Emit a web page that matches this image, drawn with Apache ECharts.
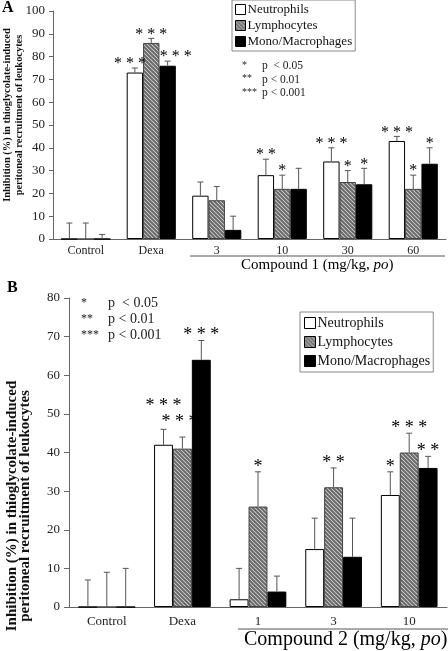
<!DOCTYPE html>
<html><head><meta charset="utf-8">
<script src="https://cdn.jsdelivr.net/npm/echarts@6/dist/echarts.min.js"></script>
<style>html,body{margin:0;padding:0;background:#fff}#c{width:448px;height:651px}</style>
</head><body><div id="c"></div>
<script>
// ---------------- DATA ----------------
const seriesNames = ['Neutrophils', 'Lymphocytes', 'Mono/Macrophages'];

// Panel A (Compound 1)
const catsA = ['Control', 'Dexa', '3', '10', '30', '60'];
const neutA = [0, 73, 19, 28, 34, 43];
const lymphA = [0, 86, 17, 22, 25, 22];
const monoA = [0, 76, 4, 22, 24, 33];
const neutErrA = [7, 2, 6, 7, 6, 2];
const lymphErrA = [7, 2, 6, 6, 5, 6];
const monoErrA = [2, 2, 6, 9, 7, 7];
const neutStarsA = ['', '***', '', '**', '***', '***'];
const lymphStarsA = ['', '***', '', '*', '*', '*'];
const monoStarsA = ['', '***', '', '', '*', '*'];
const yTicksA = [0, 10, 20, 30, 40, 50, 60, 70, 80, 90, 100];

// Panel B (Compound 2)
const catsB = ['Control', 'Dexa', '1', '3', '10'];
const neutB = [0, 42, 2, 15, 29];
const lymphB = [0, 41, 26, 31, 40];
const monoB = [0, 64, 4, 13, 36];
const neutErrB = [7, 4, 8, 8, 6];
const lymphErrB = [9, 3, 9, 5, 5];
const monoErrB = [10, 5, 4, 10, 3];
const neutStarsB = ['', '***', '', '', '*'];
const lymphStarsB = ['', '***', '*', '**', '***'];
const monoStarsB = ['', '***', '', '', '**'];
const yTicksB = [0, 10, 20, 30, 40, 50, 60, 70, 80];

const pLegend = [['*', 'p  < 0.05'], ['**', 'p < 0.01'], ['***', 'p < 0.001']];
const yTitle = ['Inhibition (%) in thioglycolate-induced', 'peritoneal recruitment of leukocytes'];

// ---------------- STYLE ----------------
const FONT = '"Liberation Serif", "Times New Roman", serif';
function hatch() {
  const c = document.createElement('canvas');
  c.width = 4; c.height = 4;
  const g = c.getContext('2d');
  for (let y = 0; y < 4; y++) for (let x = 0; x < 4; x++) {
    g.fillStyle = ((x + y) % 2 === 0) ? '#7c7c7c' : '#c4c4c4';
    g.fillRect(x, y, 1, 1);
  }
  g.fillStyle = '#666';
  for (let i = 0; i < 4; i++) { g.fillRect((i + 1) % 4, i, 1, 1); }
  return c;
}
const fills = ['#ffffff', { image: hatch(), repeat: 'repeat' }, '#000000'];
const borders = ['#000', '#444', '#000'];

// pixel nudges [dx, dy] for star labels that the original shifted to avoid overlap
const starNudge = { 'A-1-0': [-5, 0], 'A-1-2': [8, 0], 'B-1-0': [0, -18], 'B-1-1': [-3, -10] };

function buildErr(tag, vals, errs, stars) {
  const rows = [];
  for (let s = 0; s < 3; s++) for (let i = 0; i < vals[s].length; i++)
    rows.push([i, vals[s][i] + errs[s][i], s, stars[s][i], tag, vals[s][i]]);
  return rows;
}
function errRender(starSize) {
  return function (params, api) {
    const i = api.value(0), top = api.value(1), s = api.value(2);
    const band = api.size([1, 0])[0];
    const bw = band * 0.25;
    const base = api.coord([i, 0]);
    const topPt = api.coord([i, top]);
    const barTop = api.coord([i, api.value(5)])[1];
    const x = base[0] + (s - 1) * bw;
    const st = String(api.value(3) || '');
    const tag = api.value(4);
    const children = [];
    children.push({ type: 'line', shape: { x1: x, y1: barTop, x2: x, y2: topPt[1] }, style: { stroke: '#555', lineWidth: 1 } });
    children.push({ type: 'line', shape: { x1: x - 3, y1: topPt[1], x2: x + 3, y2: topPt[1] }, style: { stroke: '#555', lineWidth: 1 } });
    if (st.length) {
      const nd = starNudge[tag + '-' + i + '-' + s] || [0, 0];
      children.push({ type: 'text', x: x + nd[0], y: topPt[1] + 4 + nd[1], style: { text: st.split('').join(' '), font: starSize + 'px ' + FONT, fill: '#000', align: 'center', verticalAlign: 'bottom' } });
    }
    return { type: 'group', children: children };
  };
}

function barSeries(xi, yi, data, s) {
  return {
    name: seriesNames[s], type: 'bar', xAxisIndex: xi, yAxisIndex: yi, data: data,
    barWidth: '25%', barGap: '0%',
    itemStyle: { color: fills[s], borderColor: borders[s], borderWidth: 1 },
    emphasis: { disabled: true }, animation: false
  };
}
function vText(x, y, text, font) {
  return { type: 'text', x: x, y: y, rotation: Math.PI / 2, style: { text: text, font: font, fill: '#111', align: 'center', verticalAlign: 'middle' } };
}

const axisLineStyle = { color: '#666', width: 1 };
const option = {
  animation: false,
  grid: [
    { left: 53, top: 11, width: 393, height: 228 },
    { left: 69, top: 298, width: 378, height: 309 }
  ],
  xAxis: [
    { type: 'category', gridIndex: 0, data: catsA, axisTick: { show: false }, axisLine: { lineStyle: axisLineStyle },
      axisLabel: { fontFamily: FONT, fontSize: 12, color: '#222', margin: 6 } },
    { type: 'category', gridIndex: 1, data: catsB, axisTick: { show: false }, axisLine: { lineStyle: axisLineStyle },
      axisLabel: { fontFamily: FONT, fontSize: 13, color: '#222', margin: 8 } }
  ],
  yAxis: [
    { type: 'value', gridIndex: 0, min: yTicksA[0], max: yTicksA[yTicksA.length - 1], interval: yTicksA[1] - yTicksA[0],
      splitLine: { show: false }, axisLine: { show: true, lineStyle: axisLineStyle }, axisTick: { show: true, length: 4, lineStyle: axisLineStyle },
      axisLabel: { fontFamily: FONT, fontSize: 13, color: '#222', margin: 8 } },
    { type: 'value', gridIndex: 1, min: yTicksB[0], max: yTicksB[yTicksB.length - 1], interval: yTicksB[1] - yTicksB[0],
      splitLine: { show: false }, axisLine: { show: true, lineStyle: axisLineStyle }, axisTick: { show: true, length: 5, lineStyle: axisLineStyle },
      axisLabel: { fontFamily: FONT, fontSize: 13, color: '#222', margin: 9 } }
  ],
  legend: [
    { data: seriesNames, left: 232, top: 0, orient: 'vertical', itemGap: 3, itemWidth: 10, itemHeight: 10,
      borderColor: '#888', borderWidth: 1, padding: [3, 3, 3, 3], itemStyle: { borderWidth: 1, borderColor: '#000' },
      textStyle: { fontFamily: FONT, fontSize: 13, color: '#111', padding: [0, 0, 0, -3] }, selectedMode: false, icon: 'rect' },
    { data: seriesNames, left: 300, top: 312, orient: 'vertical', itemGap: 5, itemWidth: 11, itemHeight: 11,
      borderColor: '#888', borderWidth: 1, padding: [4, 3, 4, 4], itemStyle: { borderWidth: 1, borderColor: '#000' },
      textStyle: { fontFamily: FONT, fontSize: 14, color: '#111', padding: [0, 0, 0, -3] }, selectedMode: false, icon: 'rect' }
  ],
  series: [
    barSeries(0, 0, neutA, 0), barSeries(0, 0, lymphA, 1), barSeries(0, 0, monoA, 2),
    barSeries(1, 1, neutB, 0), barSeries(1, 1, lymphB, 1), barSeries(1, 1, monoB, 2),
    { type: 'custom', xAxisIndex: 0, yAxisIndex: 0, renderItem: errRender(16), silent: true, z: 5,
      data: buildErr('A', [neutA, lymphA, monoA], [neutErrA, lymphErrA, monoErrA], [neutStarsA, lymphStarsA, monoStarsA]) },
    { type: 'custom', xAxisIndex: 1, yAxisIndex: 1, renderItem: errRender(18), silent: true, z: 5,
      data: buildErr('B', [neutB, lymphB, monoB], [neutErrB, lymphErrB, monoErrB], [neutStarsB, lymphStarsB, monoStarsB]) }
  ],
  graphic: [
    { type: 'text', left: 2, top: 0, style: { text: 'A', font: 'bold 16px ' + FONT, fill: '#000' } },
    { type: 'text', left: 7, top: 280, style: { text: 'B', font: 'bold 16px ' + FONT, fill: '#000' } },
    vText(7, 115, yTitle[0], 'bold 10.4px ' + FONT),
    vText(19, 115, yTitle[1], 'bold 10.4px ' + FONT),
    vText(12, 506, yTitle[0], 'bold 15px ' + FONT),
    vText(25, 506, yTitle[1], 'bold 15px ' + FONT),
    { type: 'line', shape: { x1: 190, y1: 256, x2: 445, y2: 256 }, style: { stroke: '#555', lineWidth: 1 } },
    { type: 'text', left: 241, top: 258, style: { text: '{a|Compound 1 (mg/kg, }{i|po}{a|)}',
        rich: { a: { fontFamily: FONT, fontSize: 15, fill: '#000' }, i: { fontFamily: FONT, fontSize: 15, fontStyle: 'italic', fill: '#000' } } } },
    { type: 'line', shape: { x1: 238, y1: 629, x2: 448, y2: 629 }, style: { stroke: '#555', lineWidth: 1 } },
    { type: 'text', left: 244, top: 630, style: { text: '{a|Compound 2 (mg/kg, }{i|po}{a|)}',
        rich: { a: { fontFamily: FONT, fontSize: 20, fill: '#000' }, i: { fontFamily: FONT, fontSize: 20, fontStyle: 'italic', fill: '#000' } } } }
  ].concat(pLegend.map(function (p, k) {
    return { type: 'text', left: 242, top: 60 + k * 13.5, style: { text: p[0], font: '10px ' + FONT, fill: '#222' } };
  })).concat(pLegend.map(function (p, k) {
    return { type: 'text', left: 262, top: 60 + k * 13.5, style: { text: p[1], font: '11.5px ' + FONT, fill: '#222' } };
  })).concat(pLegend.map(function (p, k) {
    return { type: 'text', left: 81, top: 297 + k * 16, style: { text: p[0], font: '12px ' + FONT, fill: '#222' } };
  })).concat(pLegend.map(function (p, k) {
    return { type: 'text', left: 108, top: 296 + k * 16, style: { text: p[1], font: '14px ' + FONT, fill: '#222' } };
  }))
};
const chart = echarts.init(document.getElementById('c'), null, { renderer: 'canvas' });
chart.setOption(option);
</script></body></html>
